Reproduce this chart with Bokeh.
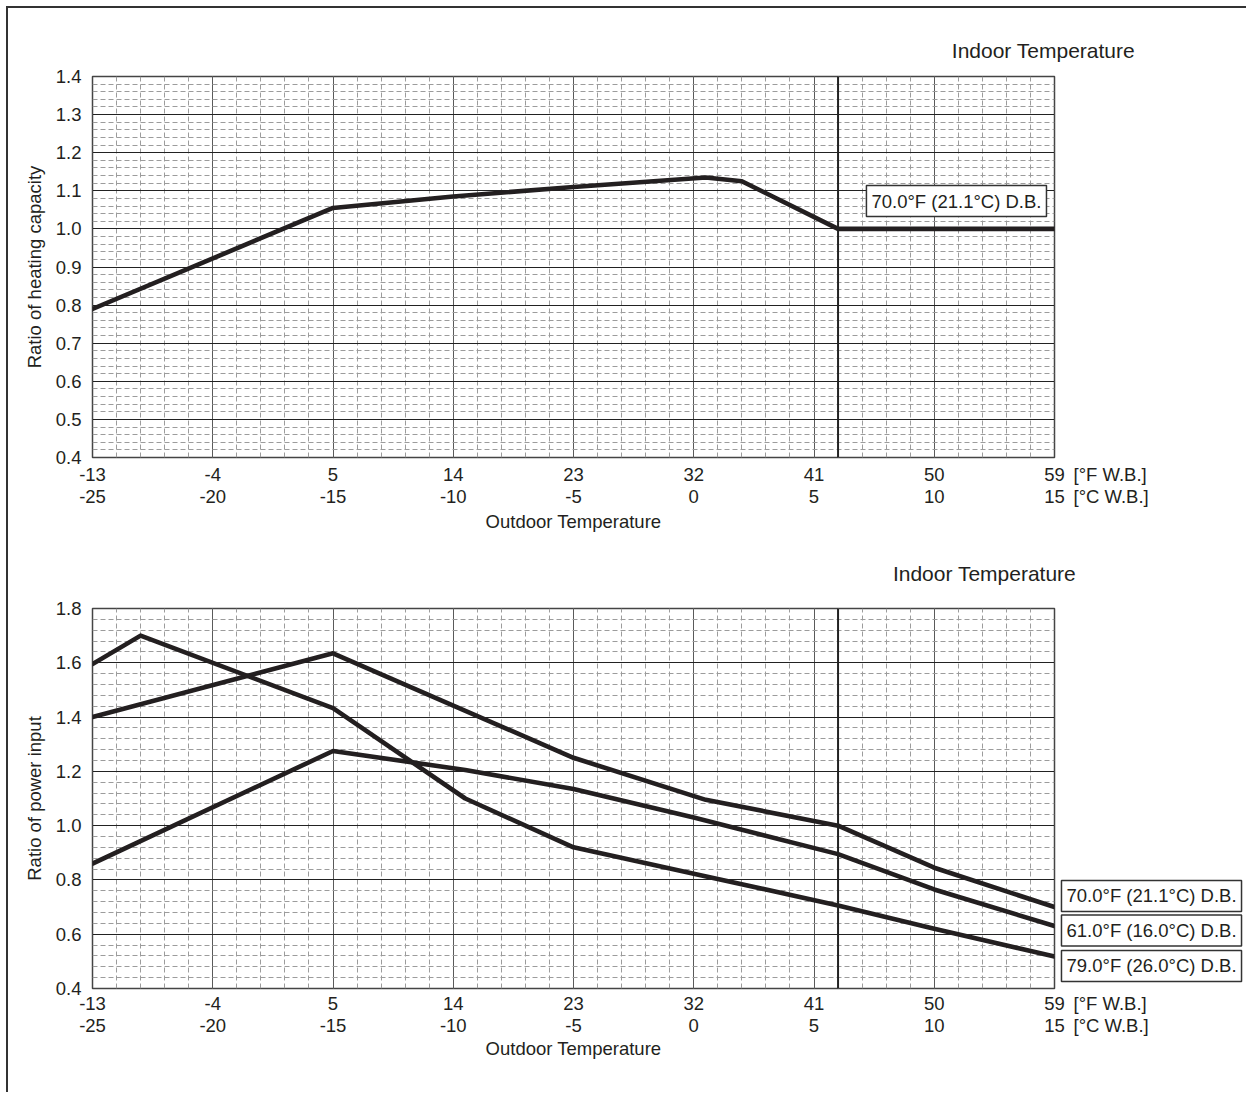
from bokeh.plotting import figure
from bokeh.models import (Range1d, LinearAxis, FixedTicker, SingleIntervalTicker,
                          PrintfTickFormatter, Span, Label)
from bokeh.layouts import column
from bokeh.embed import file_html
from bokeh.resources import INLINE

# ---------------- data (x in deg C W.B.) ----------------
x_ticks_c = [-25, -20, -15, -10, -5, 0, 5, 10, 15]
x_labels_f = ["-13", "-4", "5", "14", "23", "32", "41", "50", "59"]
x_labels_c = ["-25", "-20", "-15", "-10", "-5", "0", "5", "10", "15"]

cap_y_ticks = [0.4, 0.5, 0.6, 0.7, 0.8, 0.9, 1.0, 1.1, 1.2, 1.3, 1.4]
pow_y_ticks = [0.4, 0.6, 0.8, 1.0, 1.2, 1.4, 1.6, 1.8]

ref_line_c = 6.0   # vertical reference line (about 43 F)

cap70_x = [-25, -15, -10, -5, 0.5, 2, 6, 15]
cap70_y = [0.79, 1.055, 1.085, 1.11, 1.135, 1.125, 1.0, 1.0]

pow70_x = [-25, -15, -5, 0.5, 6, 10, 15]
pow70_y = [1.40, 1.635, 1.25, 1.095, 1.0, 0.845, 0.70]

pow61_x = [-25, -15, -9.5, -5, 0, 6, 10, 15]
pow61_y = [0.86, 1.275, 1.205, 1.135, 1.03, 0.895, 0.765, 0.63]

pow79_x = [-25, -23, -15, -9.5, -5, 0, 6, 10, 15]
pow79_y = [1.595, 1.70, 1.433, 1.10, 0.92, 0.823, 0.706, 0.62, 0.518]

label70 = "70.0°F (21.1°C) D.B."
label61 = "61.0°F (16.0°C) D.B."
label79 = "79.0°F (26.0°C) D.B."

# ---------------- style ----------------
FONT = "Liberation Sans"
FS = "18.5px"
INK = "#231f20"
LINE_W = 4.6


def text_label(x, y, text, align="left", size=FS, boxed=False):
    lab = Label(x=x, y=y, text=text, text_font=FONT, text_font_size=size,
                text_color=INK, text_align=align, text_baseline="middle")
    if boxed:
        lab.update(border_line_color="#333333", border_line_width=1.5,
                   background_fill_color="white", padding=5)
    return lab


def base_fig(height, frame_h, y_lo, y_hi, y_step, y_ticks, y_label,
             b_left, b_top, b_bottom, std1, std_lab, unit_y):
    p = figure(width=1238, height=height, frame_width=962, frame_height=frame_h,
               x_range=Range1d(-25, 15), y_range=Range1d(y_lo, y_hi),
               output_backend="svg", toolbar_location=None,
               min_border_left=b_left, min_border_top=b_top,
               min_border_bottom=b_bottom, min_border_right=192)
    p.background_fill_color = "white"
    p.border_fill_color = "white"
    p.outline_line_color = "#444444"
    p.outline_line_width = 1.5

    # grids
    p.xgrid.ticker = SingleIntervalTicker(interval=5, num_minor_ticks=5)
    p.ygrid.ticker = SingleIntervalTicker(interval=y_step, num_minor_ticks=5)
    for g, col in ((p.xgrid, "#5a5a5a"), (p.ygrid, "#222222")):
        g.grid_line_color = col
        g.grid_line_width = 1
        g.minor_grid_line_color = "#9c9c9c"
        g.minor_grid_line_width = 1
        g.minor_grid_line_dash = "5 3"

    # y axis
    ya = p.yaxis[0]
    ya.ticker = FixedTicker(ticks=y_ticks)
    ya.formatter = PrintfTickFormatter(format="%.1f")
    ya.axis_label = y_label
    ya.axis_line_color = None
    ya.major_tick_line_color = None
    ya.minor_tick_line_color = None
    ya.major_label_standoff = 5
    ya.axis_label_standoff = 8
    ya.major_label_text_font = FONT
    ya.major_label_text_font_size = FS
    ya.major_label_text_color = INK
    ya.axis_label_text_font = FONT
    ya.axis_label_text_font_size = FS
    ya.axis_label_text_font_style = "normal"
    ya.axis_label_text_color = INK

    # x axis: deg F row then deg C row
    xa = p.xaxis[0]
    xc = LinearAxis()
    p.add_layout(xc, "below")
    for ax, labels, standoff in ((xa, x_labels_f, std1), (xc, x_labels_c, 0)):
        ax.ticker = FixedTicker(ticks=x_ticks_c)
        ax.major_label_overrides = {t: s for t, s in zip(x_ticks_c, labels)}
        ax.axis_line_color = None
        ax.major_tick_line_color = None
        ax.minor_tick_line_color = None
        ax.major_label_standoff = standoff
        ax.major_label_text_font = FONT
        ax.major_label_text_font_size = FS
        ax.major_label_text_color = INK
    xc.axis_label = "Outdoor Temperature"
    xc.axis_label_standoff = std_lab
    xc.axis_label_text_font = FONT
    xc.axis_label_text_font_size = FS
    xc.axis_label_text_font_style = "normal"
    xc.axis_label_text_color = INK

    p.add_layout(Span(location=ref_line_c, dimension="height",
                      line_color="#222222", line_width=2))

    # unit captions for the two tick rows (outside the frame -> side panel)
    p.add_layout(text_label(15.79, unit_y[0], "[°F W.B.]"), "right")
    p.add_layout(text_label(15.79, unit_y[1], "[°C W.B.]"), "right")
    return p


# ---------------- top chart ----------------
p1 = base_fig(550, 381, 0.4, 1.4, 0.1, cap_y_ticks, "Ratio of heating capacity",
              84, 68, 101, 4, 5, (0.3554, 0.2976))
p1.line(cap70_x, cap70_y, line_color=INK, line_width=LINE_W,
        line_join="round", line_cap="round")
p1.add_layout(text_label(7.18, 1.073, label70, boxed=True))
p1.add_layout(text_label(14.54, 1.468, "Indoor Temperature", align="center",
                         size="21px"), "above")

# ---------------- bottom chart ----------------
p2 = base_fig(534, 380, 0.4, 1.8, 0.2, pow_y_ticks, "Ratio of power input",
              83, 50, 104, 2, 3, (0.3447, 0.2637))
for xs, ys in ((pow70_x, pow70_y), (pow61_x, pow61_y), (pow79_x, pow79_y)):
    p2.line(xs, ys, line_color=INK, line_width=LINE_W,
            line_join="round", line_cap="round")
for yy, txt in ((0.741, label70), (0.614, label61), (0.483, label79)):
    p2.add_layout(text_label(15.29, yy, txt, boxed=True), "right")
p2.add_layout(text_label(12.09, 1.929, "Indoor Temperature", align="center",
                         size="21px"), "above")

layout = column(p1, p2, spacing=0,
                styles={"border-left": "2px solid #333333",
                        "border-top": "2px solid #333333",
                        "margin-left": "6px", "margin-top": "6px"})

open("out.html", "w").write(file_html(layout, INLINE))
